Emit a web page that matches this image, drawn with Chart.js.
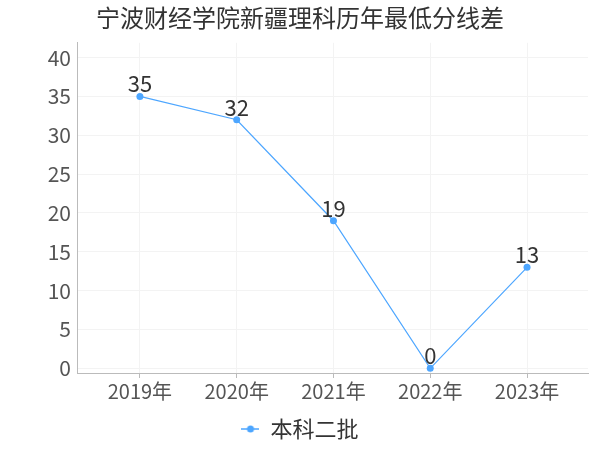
<!DOCTYPE html>
<html>
<head>
<meta charset="utf-8">
<script src="https://cdn.jsdelivr.net/npm/chart.js@4.4.1/dist/chart.umd.min.js"></script>
<style>
  body { margin: 0; background: #fff; }
  #wrap { width: 600px; height: 450px; }
</style>
</head>
<body>
<div id="wrap"><canvas id="myChart" width="600" height="450"></canvas></div>
<script>
const years = ['2019年', '2020年', '2021年', '2022年', '2023年']
const scores = [35, 32, 19, 0, 13]
const yTicks = [0, 5, 10, 15, 20, 25, 30, 35, 40]
const seriesName = '本科二批'
const chartTitle = '宁波财经学院新疆理科历年最低分线差'

const FONT = '"Noto Sans CJK SC", "Noto Sans", sans-serif'
const BLUE = '#4da6ff'

// little legend marker: short line with a dot in the middle
const marker = document.createElement('canvas')
marker.width = 18
marker.height = 10
const mctx = marker.getContext('2d')
mctx.strokeStyle = BLUE
mctx.fillStyle = BLUE
mctx.lineWidth = 1.5
mctx.beginPath()
mctx.moveTo(0, 5)
mctx.lineTo(18, 5)
mctx.stroke()
mctx.beginPath()
mctx.arc(9, 5, 3.5, 0, Math.PI * 2)
mctx.fill()

// draw the value above each point
const valueLabels = {
  id: 'valueLabels',
  afterDatasetsDraw(chart) {
    const c = chart.ctx
    const meta = chart.getDatasetMeta(0)
    c.save()
    c.font = '22px ' + FONT
    c.fillStyle = '#333'
    c.textAlign = 'center'
    c.textBaseline = 'alphabetic'
    meta.data.forEach((pt, i) => {
      c.fillText(String(scores[i]), pt.x, pt.y - 4)
    })
    c.restore()
  }
}

const ctx = document.getElementById('myChart').getContext('2d')
const myChart = new Chart(ctx, {
  type: 'line',
  data: {
    datasets: [{
      label: seriesName,
      data: scores.map((v, i) => ({ x: i, y: v })),
      borderColor: BLUE,
      backgroundColor: BLUE,
      pointBorderColor: BLUE,
      pointBackgroundColor: BLUE,
      borderWidth: 1.2,
      pointRadius: 3.5,
      pointBorderWidth: 0,
      pointHoverRadius: 3.5,
      tension: 0
    }]
  },
  options: {
    responsive: false,
    animation: false,
    layout: { padding: { left: 12, right: 12, top: 0, bottom: 0 } },
    plugins: {
      title: {
        display: true,
        text: chartTitle,
        color: '#333',
        font: { family: FONT, size: 24, weight: 'normal' },
        padding: { top: 3, bottom: 11 }
      },
      legend: {
        position: 'bottom',
        labels: {
          usePointStyle: true,
          pointStyleWidth: 18,
          color: '#333',
          font: { family: FONT, size: 22 },
          padding: 3,
          generateLabels(chart) {
            return [{
              text: seriesName,
              fillStyle: BLUE,
              strokeStyle: BLUE,
              lineWidth: 0,
              pointStyle: marker,
              fontColor: '#333',
              datasetIndex: 0
            }]
          }
        }
      },
      tooltip: { enabled: false }
    },
    scales: {
      x: {
        type: 'linear',
        min: -0.65,
        max: 4.63,
        afterBuildTicks(scale) {
          scale.ticks = years.map((y, i) => ({ value: i }))
        },
        afterFit(scale) { scale.height = 42 },
        ticks: {
          color: '#555',
          font: { family: FONT, size: 20 },
          padding: 1,
          callback: (v) => years[v]
        },
        grid: { color: '#f3f3f3', tickColor: '#bbb', tickLength: 5 },
        border: { color: '#bbb' }
      },
      y: {
        min: -0.6,
        max: 41.9,
        afterBuildTicks(scale) {
          scale.ticks = yTicks.map(v => ({ value: v }))
        },
        afterFit(scale) { scale.width = 65 },
        ticks: {
          color: '#555',
          font: { family: FONT, size: 21 },
          padding: 6
        },
        grid: { color: '#f3f3f3', drawTicks: false },
        border: { color: '#bbb' }
      }
    }
  },
  plugins: [valueLabels]
})
</script>
</body>
</html>
